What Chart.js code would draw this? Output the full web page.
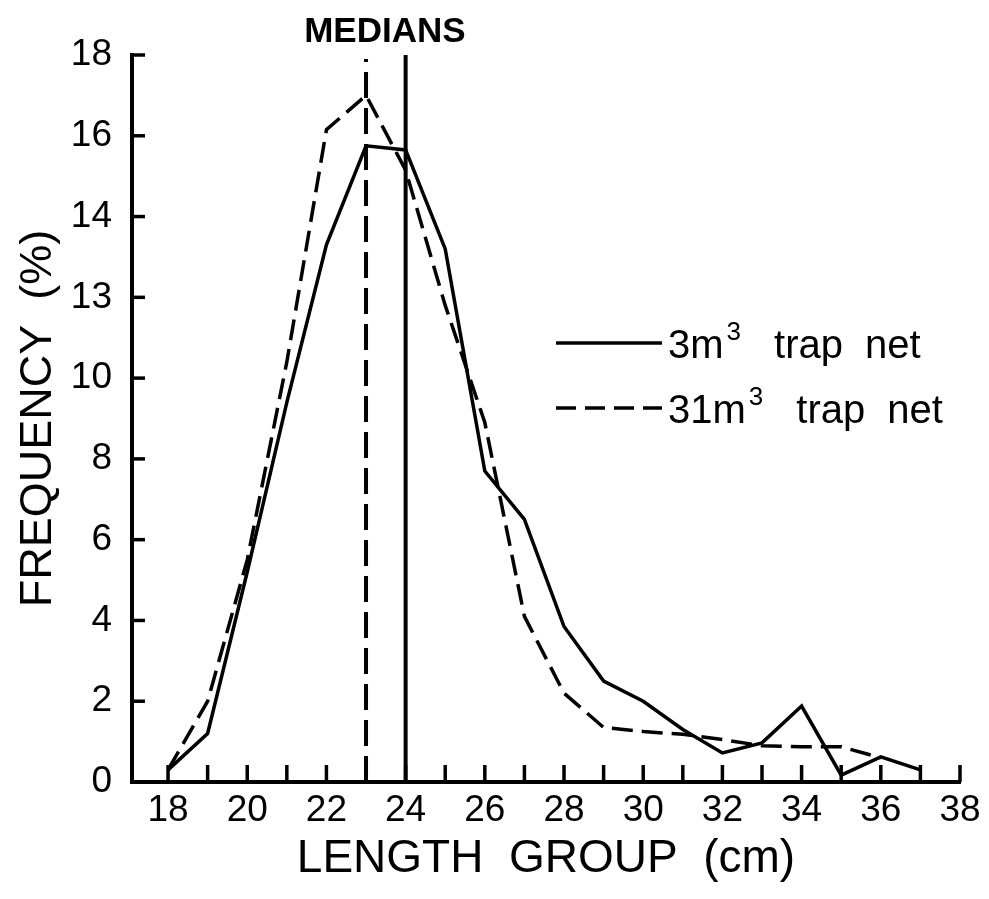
<!DOCTYPE html>
<html>
<head>
<meta charset="utf-8">
<script src="https://cdn.jsdelivr.net/npm/chart.js@4/dist/chart.umd.min.js"></script>
<style>
  html, body { margin: 0; padding: 0; background: #fff; }
  #wrap { width: 989px; height: 899px; }
</style>
</head>
<body>
<div id="wrap"><canvas id="c" width="989" height="899"></canvas></div>
<script>
// ---- data ----
const lengthGroups = [18, 19, 20, 21, 22, 23, 24, 25, 26, 27, 28, 29, 30, 31, 32, 33, 34, 35, 36, 37];
const trap3 =  [0.3, 1.2, 5.2, 9.4, 13.3, 15.75, 15.65, 13.2, 7.7, 6.5, 3.85, 2.5, 2.0, 1.3, 0.72, 0.97, 1.88, 0.17, 0.62, 0.3];
const trap31 = [0.3, 2.0, 5.5, 10.4, 16.15, 17.0, 15.15, 11.8, 8.9, 4.1, 2.2, 1.35, 1.25, 1.18, 1.05, 0.9, 0.87, 0.87, 0.6, null];
const medians = { trap3: 24, trap31: 23 };
const yTickValues = [0, 2, 4, 6, 8, 10, 12, 14, 16, 18];
const yTickLabels = ["0", "2", "4", "6", "8", "10", "13", "14", "16", "18"];
const xTickValues = [18, 20, 22, 24, 26, 28, 30, 32, 34, 36, 38];
const legendLabels = ["3m", "31m"];

const FONT = "'Liberation Sans', Arial, sans-serif";

function pts(xs, ys) {
  const out = [];
  xs.forEach((x, i) => { if (ys[i] !== null && ys[i] !== undefined) out.push({ x: x, y: ys[i] }); });
  return out;
}

const insideTicks = {
  id: 'insideTicks',
  afterDraw(chart) {
    const ctx = chart.ctx;
    const xs = chart.scales.x, ys = chart.scales.y;
    const ca = chart.chartArea;
    ctx.save();
    ctx.strokeStyle = '#000';
    ctx.lineWidth = 3.5;
    ctx.lineCap = 'butt';
    for (let v = 18; v <= 38; v++) {
      const px = xs.getPixelForValue(v);
      ctx.beginPath();
      ctx.moveTo(px, ca.bottom);
      ctx.lineTo(px, ca.bottom - 17);
      ctx.stroke();
    }
    yTickValues.forEach(v => {
      const py = ys.getPixelForValue(v);
      ctx.beginPath();
      ctx.moveTo(ca.left, py);
      ctx.lineTo(ca.left + 13, py);
      ctx.stroke();
    });
    ctx.fillStyle = '#000';
    ctx.font = "bold 35px " + FONT;
    ctx.textAlign = 'center';
    ctx.textBaseline = 'alphabetic';
    ctx.fillText('MEDIANS', (xs.getPixelForValue(medians.trap31) + xs.getPixelForValue(medians.trap3)) / 2 - 1, 42);

    const items = [
      { label: legendLabels[0], dash: [], y: 343 },
      { label: legendLabels[1], dash: [20, 9], y: 408 }
    ];
    items.forEach(it => {
      ctx.setLineDash(it.dash);
      ctx.lineWidth = 3.5;
      ctx.beginPath();
      ctx.moveTo(556, it.y);
      ctx.lineTo(662, it.y);
      ctx.stroke();
      ctx.setLineDash([]);
      ctx.textAlign = 'left';
      ctx.textBaseline = 'alphabetic';
      ctx.font = "40px " + FONT;
      const x0 = 668, base = it.y + 15;
      ctx.fillText(it.label, x0, base);
      const w = ctx.measureText(it.label).width;
      ctx.font = "26px " + FONT;
      ctx.fillText('3', x0 + w + 3, base - 18);
      const w2 = ctx.measureText('3').width;
      ctx.font = "40px " + FONT;
      const xt = x0 + w + w2 + 36;
      ctx.fillText('trap', xt, base);
      const w3 = ctx.measureText('trap').width;
      ctx.fillText('net', xt + w3 + 22, base);
    });
    ctx.restore();
  }
};

new Chart(document.getElementById('c'), {
  type: 'scatter',
  data: {
    datasets: [
      {
        label: '3m³ trap net',
        data: pts(lengthGroups, trap3),
        showLine: true, borderColor: '#000', borderWidth: 3.5,
        pointRadius: 0, tension: 0, fill: false
      },
      {
        label: '31m³ trap net',
        data: pts(lengthGroups, trap31),
        showLine: true, borderColor: '#000', borderWidth: 3.5, borderDash: [21, 9],
        pointRadius: 0, tension: 0, fill: false
      },
      {
        label: 'median 3',
        data: [{ x: medians.trap3, y: 0 }, { x: medians.trap3, y: 18 }],
        showLine: true, borderColor: '#000', borderWidth: 4,
        pointRadius: 0, fill: false
      },
      {
        label: 'median 31',
        data: [{ x: medians.trap31, y: 0 }, { x: medians.trap31, y: 17.9 }],
        showLine: true, borderColor: '#000', borderWidth: 4, borderDash: [26, 10],
        pointRadius: 0, fill: false
      }
    ]
  },
  options: {
    responsive: false,
    animation: false,
    devicePixelRatio: 1,
    layout: { padding: { top: 55, right: 29, left: 0, bottom: 0 } },
    plugins: { legend: { display: false }, tooltip: { enabled: false } },
    scales: {
      x: {
        type: 'linear', min: 17.09, max: 38,
        afterBuildTicks: s => { s.ticks = xTickValues.map(v => ({ value: v })); },
        afterFit: s => { s.height = 117; },
        ticks: {
          color: '#000', font: { family: FONT, size: 37 }, padding: 7,
          maxRotation: 0, autoSkip: false,
          callback: v => String(v)
        },
        grid: { display: false, drawTicks: false },
        border: { display: true, color: '#000', width: 4 },
        title: {
          display: true, text: 'LENGTH  GROUP  (cm)', color: '#000',
          font: { family: FONT, size: 46 }, padding: { top: 0, bottom: 12 }
        }
      },
      y: {
        type: 'linear', min: 0, max: 18,
        afterBuildTicks: s => { s.ticks = yTickValues.map(v => ({ value: v })); },
        afterFit: s => { s.width = 132; },
        ticks: {
          color: '#000', font: { family: FONT, size: 37 }, padding: 20,
          autoSkip: false,
          callback: v => yTickLabels[yTickValues.indexOf(v)]
        },
        grid: { display: false, drawTicks: false },
        border: { display: true, color: '#000', width: 4 },
        title: {
          display: true, text: 'FREQUENCY  (%)', color: '#000',
          font: { family: FONT, size: 45 }, padding: { top: 12, bottom: 0 }
        }
      }
    }
  },
  plugins: [insideTicks]
});
</script>
</body>
</html>
